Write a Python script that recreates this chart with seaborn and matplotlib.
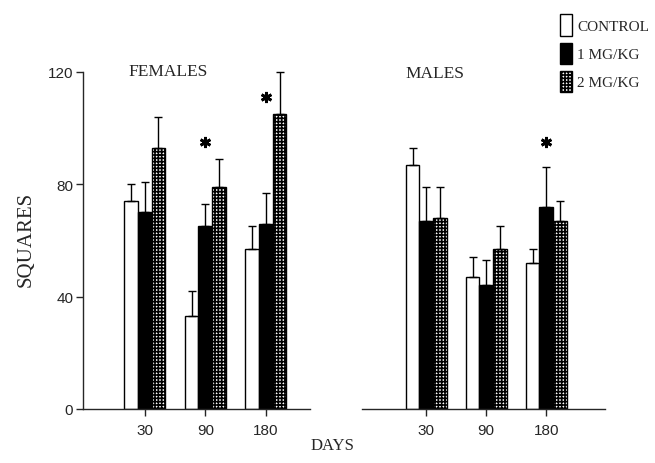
import numpy as np
import pandas as pd
import matplotlib.pyplot as plt
import seaborn as sns
from matplotlib.patches import Patch


days = ["30", "90", "180"]
doses = ["CONTROL", "1 MG/KG", "2 MG/KG"]

# means and upper error (SEM)
female_control = [74, 33, 57]
female_control_err = [6, 9, 8]
female_1mg = [70, 65, 66]
female_1mg_err = [11, 8, 11]
female_2mg = [93, 79, 105]
female_2mg_err = [11, 10, 15]

male_control = [87, 47, 52]
male_control_err = [6, 7, 5]
male_1mg = [67, 44, 72]
male_1mg_err = [12, 9, 14]
male_2mg = [68, 57, 67]
male_2mg_err = [11, 8, 7]

# significance stars: day index and height
female_star_days = [1, 2]
female_star_heights = [95, 111]
male_star_days = [2]
male_star_heights = [95]

yticks = [0, 40, 80, 120]

palette = {"CONTROL": "white", "1 MG/KG": "black", "2 MG/KG": "white"}


def build_frame(means, errs):
    rows = []
    for dose, m, e in zip(doses, means, errs):
        for d, v, s in zip(days, m, e):
            rows.append({"Days": d, "Dose": dose, "Squares": v, "SEM": s})
    return pd.DataFrame(rows)


def draw_panel(ax, df, star_days, star_heights):

    sns.barplot(
        data=df, x="Days", y="Squares", hue="Dose",
        order=days, hue_order=doses, palette=palette,
        width=0.68, gap=0, edgecolor="black", linewidth=1,
        errorbar=None, legend=False, ax=ax
    )

    for dose, container in zip(doses, ax.containers):
        sub = df[df["Dose"] == dose].set_index("Days").loc[days]
        xs = [bar.get_x() + bar.get_width() / 2 for bar in container]
        ax.errorbar(
            xs, sub["Squares"],
            yerr=[np.zeros(len(xs)), sub["SEM"]],
            fmt="none", ecolor="black", elinewidth=1,
            capsize=3, capthick=1, clip_on=False, zorder=3
        )
        if dose == "2 MG/KG":
            for bar in container:
                bar.set_hatch("+++++")

    ax.plot(
        star_days, star_heights, ls="none", marker=(6, 2, 0),
        ms=8, mew=2, color="black", clip_on=False
    )

    ax.set_ylim(0, 120)
    ax.set_xlabel("")
    ax.set_ylabel("")
    ax.tick_params(axis="x", length=5, width=1, pad=5, labelsize=11)
    for lab in ax.get_xticklabels():
        lab.set_family(["Liberation Sans", "DejaVu Sans"])


sns.set_style("ticks")
plt.rcParams["font.family"] = ["Liberation Serif", "DejaVu Serif"]
plt.rcParams["hatch.linewidth"] = 1.2
plt.rcParams["axes.linewidth"] = 1

fig = plt.figure(figsize=(6.55, 4.64), dpi=100)
ax_f = fig.add_axes([0.1267, 0.1164, 0.3466, 0.7263])
ax_m = fig.add_axes([0.5527, 0.1164, 0.3710, 0.7263])

female_df = build_frame(
    [female_control, female_1mg, female_2mg],
    [female_control_err, female_1mg_err, female_2mg_err]
)
male_df = build_frame(
    [male_control, male_1mg, male_2mg],
    [male_control_err, male_1mg_err, male_2mg_err]
)

draw_panel(ax_f, female_df, female_star_days, female_star_heights)
draw_panel(ax_m, male_df, male_star_days, male_star_heights)

ax_f.set_xlim(-1.02, 2.73)
ax_m.set_xlim(-1.07, 2.98)

# left panel keeps the y axis
sns.despine(ax=ax_f)
ax_f.set_yticks(yticks)
ax_f.tick_params(axis="y", length=5, width=1, pad=2, labelsize=11)
for lab in ax_f.get_yticklabels():
    lab.set_family(["Liberation Sans", "DejaVu Sans"])

# right panel only has the baseline
sns.despine(ax=ax_m, left=True)
ax_m.set_yticks([])

ax_f.text(0.374, 1.003, "FEMALES", transform=ax_f.transAxes,
          ha="center", va="center", fontsize=12.5)
ax_m.text(0.30, 0.997, "MALES", transform=ax_m.transAxes,
          ha="center", va="center", fontsize=12.5)

fig.text(0.507, 0.039, "DAYS", ha="center", va="center", fontsize=12)
fig.text(0.040, 0.483, "SQUARES", ha="center", va="center",
         rotation=90, fontsize=15)

handles = [
    Patch(facecolor="white", edgecolor="black", linewidth=1),
    Patch(facecolor="black", edgecolor="black", linewidth=1),
    Patch(facecolor="white", edgecolor="black", linewidth=1, hatch="+++++"),
]
fig.legend(
    handles, doses, loc="upper left", bbox_to_anchor=(0.838, 0.99),
    frameon=False, fontsize=11, handlelength=0.8, handleheight=1.8,
    handletextpad=0.35, labelspacing=0.43, borderaxespad=0.3
)

fig.savefig("out.png", dpi=100)
